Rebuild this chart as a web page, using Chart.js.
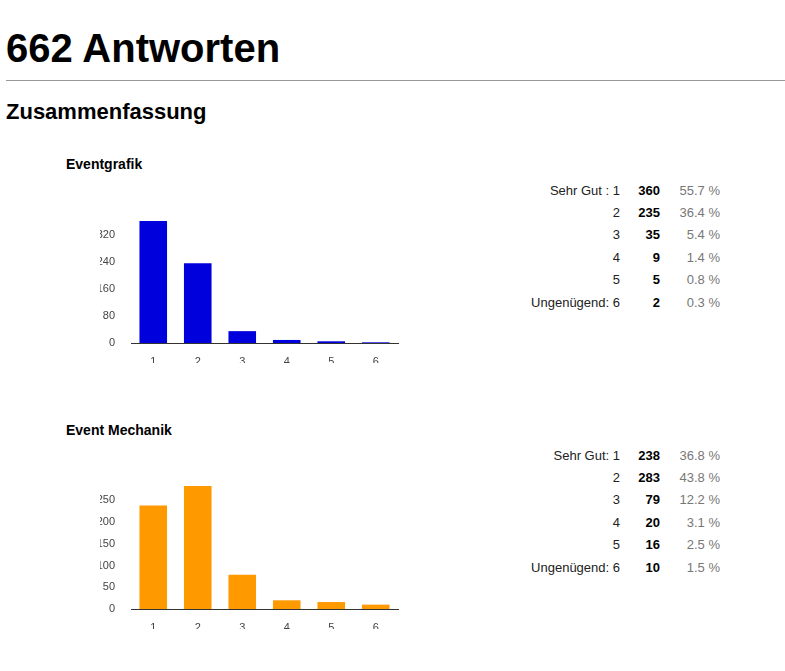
<!DOCTYPE html>
<html>
<head>
<meta charset="utf-8">
<script src="https://cdn.jsdelivr.net/npm/chart.js@4"></script>
<style>
  body { margin: 0; font-family: Arial, "Liberation Sans", sans-serif; background: #fff; }
  h1 { position: absolute; left: 6px; top: 26px; margin: 0; font-size: 40px; font-weight: bold; }
  hr { position: absolute; left: 6px; top: 80px; width: 779px; margin: 0; border: 0; border-top: 1px solid #999; }
  h2 { position: absolute; left: 6px; top: 99px; margin: 0; font-size: 22px; font-weight: bold; }
  .q { position: absolute; left: 66px; margin: 0; font-size: 14px; font-weight: bold; }
  .box { position: absolute; left: 100px; width: 300px; }
  table { position: absolute; border-collapse: collapse; font-size: 13px; }
  td { height: 22.4px; padding: 0; text-align: right; }
  td.l { width: 160px; color: #222; }
  td.n { width: 40px; font-weight: bold; }
  td.p { width: 60px; color: #777; }
</style>
</head>
<body>
<h1>662 Antworten</h1>
<hr>
<h2>Zusammenfassung</h2>

<div class="q" style="top:156px">Eventgrafik</div>
<div class="box" style="top:205px;height:158px"><canvas id="c1"></canvas></div>
<table id="t1" style="left:460px;top:179px"></table>

<div class="q" style="top:422px">Event Mechanik</div>
<div class="box" style="top:470px;height:159px"><canvas id="c2"></canvas></div>
<table id="t2" style="left:460px;top:444px"></table>

<script>
const categories = ['1', '2', '3', '4', '5', '6'];
const rowLabels1 = ['Sehr Gut : 1', '2', '3', '4', '5', 'Ungenügend: 6'];
const rowLabels2 = ['Sehr Gut: 1', '2', '3', '4', '5', 'Ungenügend: 6'];
const grafikValues = [360, 235, 35, 9, 5, 2];
const grafikPercent = ['55.7 %', '36.4 %', '5.4 %', '1.4 %', '0.8 %', '0.3 %'];
const mechanikValues = [238, 283, 79, 20, 16, 10];
const mechanikPercent = ['36.8 %', '43.8 %', '12.2 %', '3.1 %', '2.5 %', '1.5 %'];
const grafikTicks = [0, 80, 160, 240, 320];
const mechanikTicks = [0, 50, 100, 150, 200, 250];

function fillTable(id, labels, values, percents) {
  const t = document.getElementById(id);
  labels.forEach((l, i) => {
    const tr = document.createElement('tr');
    tr.innerHTML = '<td class="l">' + l + '</td><td class="n">' + values[i] + '</td><td class="p">' + percents[i] + '</td>';
    t.appendChild(tr);
  });
}
fillTable('t1', rowLabels1, grafikValues, grafikPercent);
fillTable('t2', rowLabels2, mechanikValues, mechanikPercent);

function makeChart(id, values, color, ticks, max) {
  new Chart(document.getElementById(id), {
    type: 'bar',
    data: {
      labels: categories,
      datasets: [{ data: values, backgroundColor: color, barPercentage: 0.62, categoryPercentage: 1 }]
    },
    options: {
      responsive: true,
      maintainAspectRatio: false,
      animation: false,
      layout: { padding: { top: 16, right: 2 } },
      plugins: { legend: { display: false }, tooltip: { enabled: false } },
      scales: {
        x: {
          grid: { display: false },
          border: { display: true, color: '#333' },
          ticks: { color: '#444', font: { size: 11, family: 'Arial' }, padding: 4 },
          afterFit: (s) => { s.height = 20; }
        },
        y: {
          min: 0, max: max,
          grid: { display: false },
          border: { display: false },
          ticks: { color: '#444', font: { size: 11, family: 'Arial' }, padding: 8 },
          afterBuildTicks: (s) => { s.ticks = ticks.map(v => ({ value: v })); },
          afterFit: (s) => { s.width = 31; }
        }
      }
    }
  });
}
makeChart('c1', grafikValues, '#0000dd', grafikTicks, 360);
makeChart('c2', mechanikValues, '#ff9900', mechanikTicks, 283);
</script>
</body>
</html>
